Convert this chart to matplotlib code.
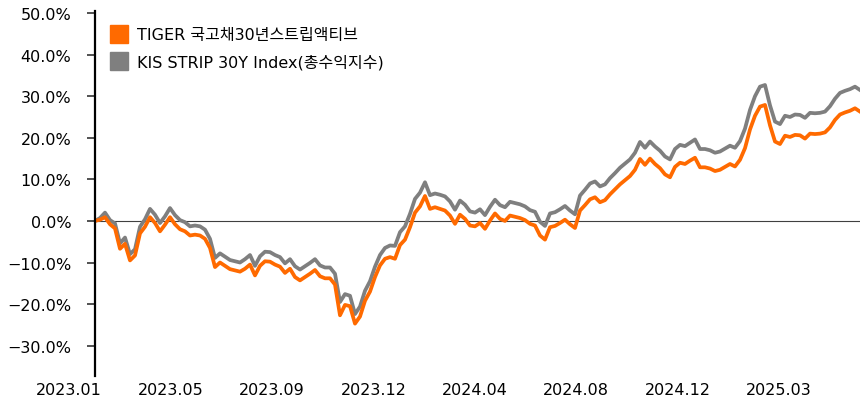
import numpy as np
import matplotlib
matplotlib.use('Agg')
import matplotlib.pyplot as plt
import matplotlib.transforms as mtransforms
from matplotlib.patches import Patch

plt.rcParams['font.family'] = ['DejaVu Sans', 'Noto Sans CJK KR']

# 누적 수익률 (%), 시작일 대비
tiger = [
    0.0, 0.3, 0.9, -0.8, -1.8, -6.7, -5.5, -9.5, -8.3, -3.0,
    -1.4, 0.9, -0.5, -2.5, -0.9, 0.9, -0.8, -2.0, -2.5, -3.5,
    -3.3, -3.5, -4.3, -6.5, -11.1, -10.0, -10.8, -11.6, -11.9, -12.2,
    -11.5, -10.5, -13.1, -10.8, -9.7, -9.8, -10.5, -11.0, -12.5, -11.5,
    -13.5, -14.3, -13.5, -12.7, -11.8, -13.3, -13.8, -13.8, -15.3, -22.7,
    -20.2, -20.5, -24.7, -23.0, -19.2, -17.0, -13.5, -10.7, -9.1, -8.7,
    -9.1, -5.8, -4.5, -1.5, 2.0, 3.5, 6.0, 2.9, 3.3, 2.9,
    2.5, 1.3, -0.7, 1.5, 0.5, -1.1, -1.3, -0.5, -1.9, 0.1,
    1.8, 0.5, 0.0, 1.3, 1.0, 0.7, 0.2, -0.7, -1.1, -3.5,
    -4.5, -1.5, -1.2, -0.5, 0.3, -0.8, -1.7, 2.5, 3.8, 5.2,
    5.7, 4.5, 5.0, 6.4, 7.6, 8.8, 9.8, 10.8, 12.3, 14.9,
    13.5, 15.0, 13.7, 12.7, 11.2, 10.5, 13.0, 14.0, 13.7, 14.5,
    15.2, 12.9, 12.9, 12.6, 12.0, 12.3, 13.0, 13.7, 13.1, 14.7,
    17.5, 22.0, 25.3, 27.5, 27.9, 23.0, 19.1, 18.5, 20.5, 20.2,
    20.7, 20.6, 19.8, 21.0, 20.9, 21.0, 21.3, 22.5, 24.3, 25.6,
    26.1, 26.5, 27.1, 26.3,
]

kis = [
    0.0, 0.7, 2.0, 0.2, -0.6, -5.4, -4.0, -8.0, -6.8, -1.4,
    0.4, 2.9, 1.5, -0.5, 1.1, 3.1, 1.4, 0.2, -0.3, -1.3,
    -1.1, -1.3, -2.1, -4.3, -8.9, -7.8, -8.6, -9.4, -9.7, -10.0,
    -9.2, -8.2, -10.8, -8.5, -7.4, -7.5, -8.2, -8.7, -10.2, -9.2,
    -10.9, -11.7, -10.9, -10.1, -9.2, -10.7, -11.2, -11.2, -12.7, -19.5,
    -17.6, -18.0, -22.4, -20.6, -16.8, -14.5, -11.0, -8.2, -6.5, -5.9,
    -6.0, -2.7, -1.3, 1.7, 5.3, 6.8, 9.3, 6.2, 6.6, 6.3,
    5.9, 4.7, 2.7, 4.9, 3.9, 2.3, 2.0, 2.8, 1.4, 3.4,
    5.1, 3.8, 3.3, 4.6, 4.3, 4.0, 3.5, 2.6, 2.2, -0.2,
    -1.2, 1.8, 2.1, 2.8, 3.6, 2.5, 1.6, 6.1, 7.5, 9.0,
    9.5, 8.3, 8.8, 10.3, 11.5, 12.8, 13.8, 14.8, 16.4, 19.0,
    17.6, 19.1, 17.9, 16.9, 15.5, 14.8, 17.3, 18.3, 18.0, 18.8,
    19.6, 17.3, 17.3, 17.0, 16.4, 16.7, 17.4, 18.1, 17.6, 19.2,
    22.2, 26.7, 30.0, 32.3, 32.7, 27.8, 23.9, 23.3, 25.3, 25.0,
    25.6, 25.5, 24.8, 26.0, 25.9, 26.0, 26.3, 27.6, 29.4, 30.8,
    31.3, 31.7, 32.3, 31.5,
]

date_labels = ['2023.01', '2023.05', '2023.09', '2023.12',
               '2024.04', '2024.08', '2024.12', '2025.03']
names = ['TIGER 국고채30년스트립액티브', 'KIS STRIP 30Y Index(총수익지수)']
c_orange = '#FF6A00'
c_gray = '#7F7F7F'

fig = plt.figure(figsize=(8.6, 4.02), dpi=100)
ax = fig.add_axes([95 / 860, 1 - 377 / 402, 765 / 860, 365 / 402])

x = np.arange(len(tiger))
ax.plot(x, kis, color=c_gray, lw=2.7, solid_joinstyle='round')
ax.plot(x, tiger, color=c_orange, lw=2.7, solid_joinstyle='round')
ax.axhline(0, color='#404040', lw=0.8, zorder=0)

ax.set_xlim(0, len(tiger) - 1)
ax.set_ylim(-37.3, 50.5)

ax.set_yticks(np.arange(-30, 51, 10))
ax.set_yticklabels(['{:.1f}%'.format(v).replace('-', '\u2212') for v in np.arange(-30, 51, 10)])
ax.tick_params(axis='y', length=6, width=1.2, pad=11, labelsize=11.5, color='#333333')

step = (len(tiger) - 1) / 7.54
ax.set_xticks([i * step for i in range(len(date_labels))])
ax.set_xticklabels(date_labels)
ax.tick_params(axis='x', length=0, pad=4, labelsize=11.5)
shift = mtransforms.ScaledTranslation(-26 / 100, 0, fig.dpi_scale_trans)
for lab in ax.get_xticklabels():
    lab.set_transform(lab.get_transform() + shift)

for s in ['top', 'right', 'bottom']:
    ax.spines[s].set_visible(False)
ax.spines['left'].set_linewidth(1.6)

handles = [Patch(color=c_orange), Patch(color=c_gray)]
ax.legend(handles, names, loc='upper left', bbox_to_anchor=(15 / 765, 1 - 14 / 365),
          frameon=False, fontsize=11.5, handlelength=1.1, handleheight=1.35,
          handletextpad=0.6, labelspacing=0.55, borderpad=0, borderaxespad=0)

plt.savefig('out.png', dpi=100)
